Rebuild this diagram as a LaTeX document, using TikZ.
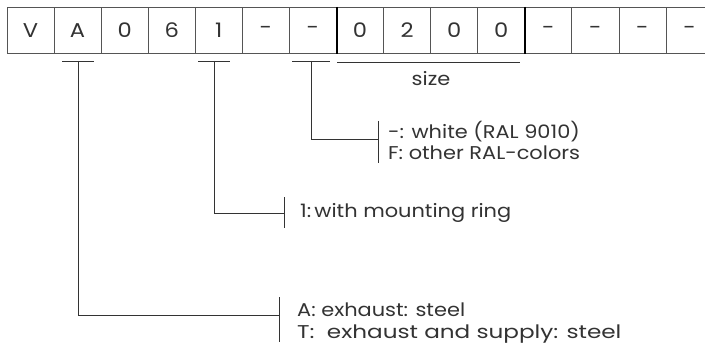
\documentclass[tikz,border=0pt]{standalone}
\usepackage{fontspec}
\setmainfont{Poppins}
\newfontfamily\gothic[FakeStretch=1.13]{Poppins}
\newfontfamily\gothicwide[FakeStretch=1.25]{Poppins}
\usetikzlibrary{calc}
\definecolor{ink}{HTML}{333333}
\definecolor{rule}{HTML}{555555}
\tikzset{
  cell/.style={draw=rule, line width=0.8pt, minimum width=47.07pt, minimum height=46.5pt,
    inner sep=0pt, text=ink, font=\gothic\fontsize{20}{22}\selectfont},
  lbl/.style={anchor=base west, inner sep=0pt, text=ink, font=\gothic\fontsize{18.5}{20}\selectfont},
  wlbl/.style={lbl, font=\gothicwide\fontsize{18.5}{20}\selectfont},
  conn/.style={draw=ink, line width=0.8pt},
  sep/.style={draw=black, line width=2.2pt}
}
\begin{document}
\begin{tikzpicture}[x=1pt,y=-1pt]
\useasboundingbox (0,0) rectangle (705,345);
\fill[white] (0,0) rectangle (705,345);
\foreach \t [count=\i] in {V,A,0,6,1,-,-,0,2,0,0,-,-,-,-}
  \node[cell] (b\i) at ({7+47.07*(\i-0.5)},30.5) {\t};
\draw[sep] (b7.north east) -- (b7.south east);
\draw[sep] (b11.north east) -- (b11.south east);
% ticks under code positions
\coordinate (tA) at (78,61);
\coordinate (tOne) at (214,61);
\coordinate (tCol) at (311,61);
\draw[conn] ($(tA)+(-16,0)$) -- ($(tA)+(16,0)$);
\draw[conn] ($(tOne)+(-16,0)$) -- ($(tOne)+(16,0)$);
\draw[conn] ($(tCol)+(-19,0)$) -- ($(tCol)+(19,0)$);
% size line
\coordinate (sL) at (337,62);
\coordinate (sR) at (520,62);
\draw[conn] (sL) -- (sR);
\node[lbl, anchor=base] (size) at (431,85) {size};
% colour option
\coordinate (hCol) at (378,139);
\draw[conn] (tCol) |- (hCol);
\draw[conn] (378,121) -- (378,163);
\node[lbl] (col1) at (388,139) {-: white (RAL 9010)};
\node[lbl] (col2) at (388,159) {F: other RAL-colors};
% mounting ring
\coordinate (hOne) at (284,213);
\draw[conn] (tOne) |- (hOne);
\draw[conn] (284,197) -- (284,228);
\node[lbl] (one) at (300,217) {1:\,with mounting ring};
% material
\coordinate (hA) at (279,315);
\draw[conn] (tA) |- (hA);
\draw[conn] (279,297) -- (279,342);
\node[lbl] (mA) at (297,316) {A: exhaust: steel};
\node[wlbl] (mT) at (297,338) {T:\ \ exhaust and supply: steel};
\end{tikzpicture}
\end{document}
